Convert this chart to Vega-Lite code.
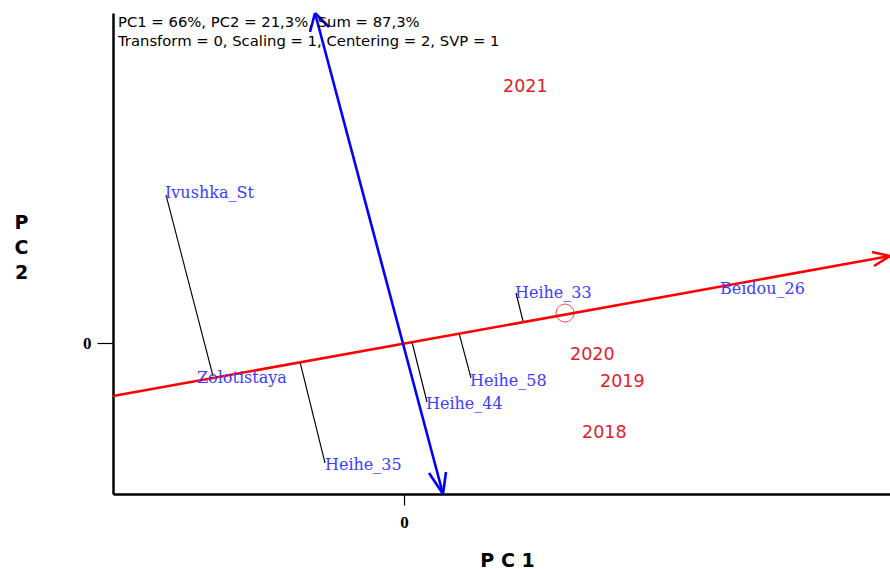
{
  "$schema": "https://vega.github.io/schema/vega-lite/v6.json",
  "width": 777,
  "height": 481,
  "autosize": {"type": "none"},
  "padding": {"left": 113, "top": 13, "right": 0, "bottom": 75},
  "background": "white",
  "config": {"view": {"stroke": null}},
  "datasets": {
    "red": [
      {"x1": -29.1, "y1": -5.3, "x2": 48.6, "y2": 8.7},
      {"x1": 46.8, "y1": 9.1, "x2": 48.6, "y2": 8.7},
      {"x1": 47.0, "y1": 7.7, "x2": 48.6, "y2": 8.7}
    ],
    "blue": [
      {"x1": -8.9, "y1": 33.0, "x2": 3.9, "y2": -15.1},
      {"x1": -8.9, "y1": 33.0, "x2": -9.4, "y2": 31.1},
      {"x1": -8.9, "y1": 33.0, "x2": -7.5, "y2": 31.6},
      {"x1": 3.9, "y1": -15.1, "x2": 2.5, "y2": -13.0},
      {"x1": 3.9, "y1": -15.1, "x2": 4.2, "y2": -12.9}
    ],
    "proj": [
      {"x1": -23.8, "y1": 14.8, "x2": -19.1, "y2": -3.3},
      {"x1": -10.4, "y1": -1.9, "x2": -7.9, "y2": -12.0},
      {"x1": 0.8, "y1": 0.1, "x2": 2.3, "y2": -5.9},
      {"x1": 5.5, "y1": 1.0, "x2": 6.7, "y2": -3.5},
      {"x1": 11.2, "y1": 5.0, "x2": 11.9, "y2": 2.2}
    ],
    "genotypes": [
      {"name": "Ivushka_St", "x": -23.9, "y": 15.0},
      {"name": "Zolotistaya", "x": -20.7, "y": -3.5},
      {"name": "Heihe_35", "x": -7.9, "y": -12.2},
      {"name": "Heihe_44", "x": 2.2, "y": -6.1},
      {"name": "Heihe_58", "x": 6.6, "y": -3.8},
      {"name": "Heihe_33", "x": 11.1, "y": 5.0},
      {"name": "Beidou_26", "x": 31.6, "y": 5.4}
    ],
    "years": [
      {"name": "2021", "x": 9.9, "y": 25.6},
      {"name": "2020", "x": 16.6, "y": -1.2},
      {"name": "2019", "x": 19.6, "y": -3.9},
      {"name": "2018", "x": 17.8, "y": -9.0}
    ],
    "info": [
      {"text": "PC1 = 66%, PC2 = 21,3%, Sum = 87,3%", "x": -28.6, "y": 32.0},
      {"text": "Transform = 0, Scaling = 1, Centering = 2, SVP = 1", "x": -28.6, "y": 30.1}
    ],
    "aec": [{"x": 16.1, "y": 3.0}]
  },
  "layer": [
    {
      "mark": {"type": "rule", "color": "black", "strokeWidth": 1, "strokeDash": [5, 3]},
      "encoding": {"y": {"datum": 0, "type": "quantitative"}}
    },
    {
      "mark": {"type": "rule", "color": "black", "strokeWidth": 1.2, "strokeDash": [2, 3]},
      "encoding": {"x": {"datum": 0, "type": "quantitative"}}
    },
    {
      "mark": {"type": "rule", "color": "black", "strokeWidth": 2.5},
      "encoding": {"y": {"datum": 33.0, "type": "quantitative"}}
    },
    {
      "data": {"name": "proj"},
      "mark": {"type": "rule", "color": "black", "strokeWidth": 1.1},
      "encoding": {
        "x": {
          "field": "x1", "type": "quantitative",
          "scale": {"domain": [-29.1, 48.6], "nice": false, "zero": false},
          "axis": {
            "values": [0], "grid": false, "title": "P C 1",
            "domainColor": "black", "domainWidth": 2.5,
            "tickColor": "black", "tickSize": 11, "tickWidth": 1.2,
            "labelFont": "Liberation Serif", "labelFontWeight": "bold", "labelFontSize": 17, "labelColor": "black", "labelPadding": 9,
            "titleFont": "DejaVu Sans", "titleFontWeight": "bold", "titleFontSize": 19, "titleColor": "black",
            "titleX": 394, "titleY": 66, "titleBaseline": "middle"
          }
        },
        "y": {
          "field": "y1", "type": "quantitative",
          "scale": {"domain": [-15.1, 33.0], "nice": false, "zero": false},
          "axis": {
            "values": [0], "grid": false, "title": ["P", "C", "2"],
            "domainColor": "black", "domainWidth": 2.5,
            "tickColor": "black", "tickSize": 16, "tickWidth": 1.2,
            "labelFont": "Liberation Serif", "labelFontWeight": "bold", "labelFontSize": 17, "labelColor": "black", "labelPadding": 6,
            "titleFont": "DejaVu Sans", "titleFontWeight": "bold", "titleFontSize": 19, "titleColor": "black",
            "titleAngle": 0, "titleLineHeight": 25, "titleAlign": "center",
            "titleX": -92, "titleY": 200, "titleBaseline": "top"
          }
        },
        "x2": {"field": "x2"},
        "y2": {"field": "y2"}
      }
    },
    {
      "data": {"name": "red"},
      "mark": {"type": "rule", "color": "#ff0000", "strokeWidth": 2.6},
      "encoding": {
        "x": {"field": "x1", "type": "quantitative"},
        "y": {"field": "y1", "type": "quantitative"},
        "x2": {"field": "x2"},
        "y2": {"field": "y2"}
      }
    },
    {
      "data": {"name": "blue"},
      "mark": {"type": "rule", "color": "#0000ff", "strokeWidth": 2.6},
      "encoding": {
        "x": {"field": "x1", "type": "quantitative"},
        "y": {"field": "y1", "type": "quantitative"},
        "x2": {"field": "x2"},
        "y2": {"field": "y2"}
      }
    },
    {
      "data": {"name": "aec"},
      "mark": {"type": "point", "shape": "circle", "filled": false, "color": "#ff0000", "strokeWidth": 1, "size": 324},
      "encoding": {"x": {"field": "x", "type": "quantitative"}, "y": {"field": "y", "type": "quantitative"}}
    },
    {
      "data": {"name": "genotypes"},
      "mark": {"type": "text", "align": "left", "baseline": "middle", "font": "DejaVu Serif", "fontSize": 16, "color": "#3c3cff"},
      "encoding": {"x": {"field": "x", "type": "quantitative"}, "y": {"field": "y", "type": "quantitative"}, "text": {"field": "name"}}
    },
    {
      "data": {"name": "years"},
      "mark": {"type": "text", "align": "left", "baseline": "middle", "font": "DejaVu Sans", "fontSize": 17.5, "color": "#e0202a"},
      "encoding": {"x": {"field": "x", "type": "quantitative"}, "y": {"field": "y", "type": "quantitative"}, "text": {"field": "name"}}
    },
    {
      "data": {"name": "info"},
      "mark": {"type": "text", "align": "left", "baseline": "middle", "font": "DejaVu Sans", "fontSize": 14.8, "color": "black"},
      "encoding": {"x": {"field": "x", "type": "quantitative"}, "y": {"field": "y", "type": "quantitative"}, "text": {"field": "text"}}
    }
  ]
}
